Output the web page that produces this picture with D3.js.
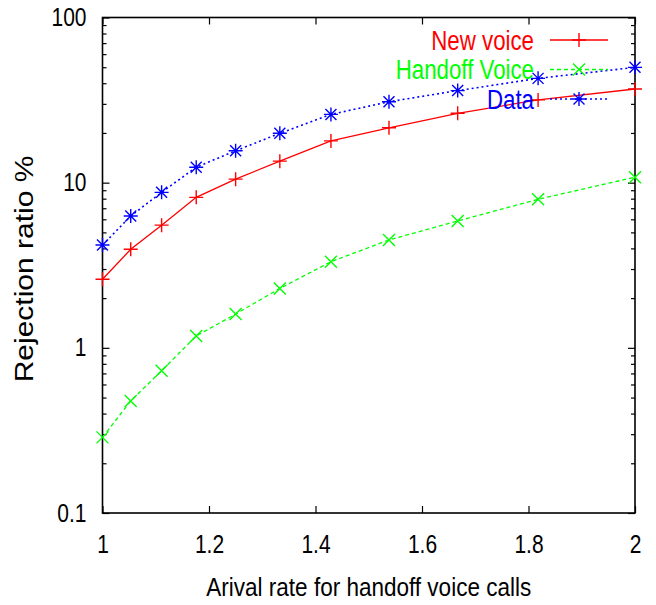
<!DOCTYPE html>
<html>
<head>
<meta charset="utf-8">
<script src="https://cdn.jsdelivr.net/npm/d3@7"></script>
<style>
html,body{margin:0;padding:0;background:#fff;}
svg{display:block;}
text{font-family:"Liberation Sans",Arial,Helvetica,sans-serif;}
</style>
</head>
<body>
<svg id="chart" width="656" height="605"></svg>
<script>
// ---- data ----
const arrivalRates = [1, 1.053, 1.111, 1.176, 1.25, 1.333, 1.429, 1.538, 1.667, 1.818, 2];
const newVoice     = [2.60, 3.95, 5.53, 8.15, 10.5, 13.5, 17.9, 21.5, 26.3, 31.7, 36.9];
const handoffVoice = [0.287, 0.477, 0.727, 1.18, 1.60, 2.29, 3.32, 4.50, 5.86, 7.93, 10.8];
const dataCalls    = [4.19, 6.28, 8.74, 12.4, 15.6, 19.9, 25.9, 30.9, 36.1, 42.8, 49.9];
const seriesNames  = ["New voice", "Handoff Voice", "Data"];
const xTickValues  = [1, 1.2, 1.4, 1.6, 1.8, 2];
const xTickLabels  = ["1", "1.2", "1.4", "1.6", "1.8", "2"];
const yTickValues  = [0.1, 1, 10, 100];
const yTickLabels  = ["0.1", "1", "10", "100"];
const xAxisTitle   = "Arival rate for handoff voice calls";
const yAxisTitle   = "Rejection ratio %";

// ---- layout ----
const L = 102.5, R = 635, T = 17.5, B = 513;
const svg = d3.select("#chart");
const x = d3.scaleLinear().domain([1, 2]).range([L, R]);
const y = d3.scaleLog().domain([0.1, 100]).range([B, T]);

const minorTicks = [];
[0.1, 1, 10].forEach(d => { for (let k = 2; k <= 9; k++) minorTicks.push(d * k); });

const SX = 0.84;

// axes (ticks inward)
function styleAxis(g) {
  g.select(".domain").remove();
  g.selectAll("line").attr("stroke", "#000").attr("stroke-width", 1.2);
}
const xFmt = d => xTickLabels[xTickValues.indexOf(d)];
const yFmt = d => yTickLabels[yTickValues.indexOf(d)];

const gx = svg.append("g").attr("transform", `translate(0,${B})`)
  .call(d3.axisBottom(x).tickValues(xTickValues).tickFormat(xFmt).tickSizeInner(-7).tickSizeOuter(0));
styleAxis(gx);
gx.selectAll("text").attr("y", 40).attr("dy", null).attr("font-size", 25).attr("fill", "#000")
  .attr("transform", `scale(${SX},1)`);

svg.append("g").attr("transform", `translate(0,${T})`)
  .call(d3.axisTop(x).tickValues(xTickValues).tickFormat("").tickSizeInner(-7).tickSizeOuter(0))
  .call(styleAxis);

const gy = svg.append("g").attr("transform", `translate(${L},0)`)
  .call(d3.axisLeft(y).tickValues(yTickValues).tickFormat(yFmt).tickSizeInner(-7).tickSizeOuter(0));
styleAxis(gy);
gy.selectAll("text").attr("x", -16 / SX).attr("font-size", 25).attr("fill", "#000")
  .attr("transform", `scale(${SX},1)`);

svg.append("g").attr("transform", `translate(${L},0)`)
  .call(d3.axisLeft(y).tickValues(minorTicks).tickFormat("").tickSizeInner(-4).tickSizeOuter(0))
  .call(styleAxis);
svg.append("g").attr("transform", `translate(${R},0)`)
  .call(d3.axisRight(y).tickValues(yTickValues).tickFormat("").tickSizeInner(-7).tickSizeOuter(0))
  .call(styleAxis);
svg.append("g").attr("transform", `translate(${R},0)`)
  .call(d3.axisRight(y).tickValues(minorTicks).tickFormat("").tickSizeInner(-4).tickSizeOuter(0))
  .call(styleAxis);

// frame
svg.append("rect").attr("x", L).attr("y", T).attr("width", R - L).attr("height", B - T)
  .attr("fill", "none").attr("stroke", "#000").attr("stroke-width", 1.6);

// axis titles
svg.append("text").attr("text-anchor", "middle").attr("font-size", 26.5).attr("fill", "#000")
  .attr("transform", `translate(${(L + R) / 2},596) scale(0.85,1)`).text(xAxisTitle);
svg.append("text").attr("text-anchor", "middle").attr("font-size", 30).attr("fill", "#000")
  .attr("transform", `translate(33,269) rotate(-90) scale(1,0.85)`).text(yAxisTitle);

// markers
const markerPaths = {
  plus: "M-7,0H7M0,-7V7",
  cross: "M-6,-6L6,6M-6,6L6,-6",
  star: "M-7,0H7M0,-7V7M-5.5,-5.5L5.5,5.5M-5.5,5.5L5.5,-5.5"
};

const series = [
  { name: seriesNames[0], values: newVoice, color: "#ff0000", dash: null, width: 1.3, marker: "plus" },
  { name: seriesNames[1], values: handoffVoice, color: "#00ff00", dash: "4,3", width: 1.3, marker: "cross" },
  { name: seriesNames[2], values: dataCalls, color: "#0000ff", dash: "2,3", width: 1.6, marker: "star" }
];

const line = d3.line().x(d => x(d[0])).y(d => y(d[1]));

series.forEach(s => {
  const pts = arrivalRates.map((r, i) => [r, s.values[i]]);
  svg.append("path").datum(pts).attr("d", line).attr("fill", "none")
    .attr("stroke", s.color).attr("stroke-width", s.width)
    .attr("stroke-dasharray", s.dash);
  svg.append("g").selectAll("path").data(pts).join("path")
    .attr("transform", d => `translate(${x(d[0])},${y(d[1])})`)
    .attr("d", markerPaths[s.marker]).attr("fill", "none")
    .attr("stroke", s.color).attr("stroke-width", 1.4);
});

// legend
const legendY = [40, 69.5, 99];
series.forEach((s, i) => {
  const ly = legendY[i];
  svg.append("text").attr("text-anchor", "end").attr("font-size", 27.5).attr("fill", s.color)
    .attr("transform", `translate(534,${ly + 9.5}) scale(0.81,1)`).text(s.name);
  svg.append("line").attr("x1", 550).attr("x2", 608).attr("y1", ly).attr("y2", ly)
    .attr("stroke", s.color).attr("stroke-width", s.width).attr("stroke-dasharray", s.dash);
  svg.append("path").attr("transform", `translate(579,${ly})`).attr("d", markerPaths[s.marker])
    .attr("fill", "none").attr("stroke", s.color).attr("stroke-width", 1.4);
});
</script>
</body>
</html>
